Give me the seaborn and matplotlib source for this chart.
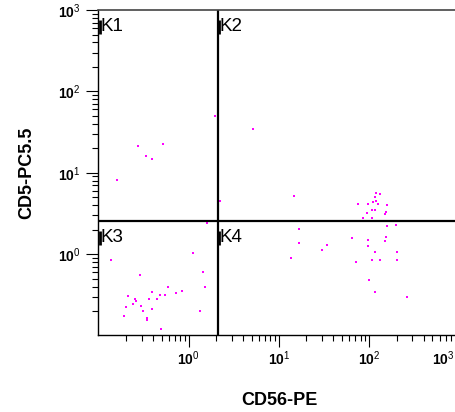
import numpy as np
import pandas as pd
import seaborn as sns
import matplotlib.pyplot as plt
from matplotlib.ticker import LogLocator, NullFormatter
from matplotlib.transforms import offset_copy

# события (CD56-PE, CD5-PC5.5)
cd56 = [1.94, 0.273, 0.52, 0.335, 0.39, 0.159, 5.1, 14.7, 2.2,
        118.6, 130, 114.5, 118.6, 110.7, 75.6, 97.5, 123.5, 158, 108,
        115.6, 153, 94.3, 147.6, 85.9, 108,
        157, 197, 16.7, 153, 64.9, 97.5, 147.6, 16.7, 33.8, 97.5,
        29.7, 114.5, 204, 13.5, 108, 130, 204, 70.6, 100, 114.5, 263,
        1.61, 1.12, 0.136, 1.42, 0.285, 1.53, 0.586, 0.843, 0.718, 0.39,
        0.539, 0.475, 0.212, 0.251, 0.359, 0.443, 0.26, 0.241, 0.293,
        0.2, 0.39, 0.308, 1.32, 0.193, 0.343, 0.343, 0.491]
cd5 = [49.8, 21.1, 22.6, 15.9, 14.8, 8.09, 34.5, 5.25, 4.56,
       5.65, 5.45, 5.05, 4.56, 4.38, 4.11, 4.11, 4.11, 3.96, 3.44,
       3.44, 3.30, 3.18, 3.10, 2.77, 2.77,
       2.22, 2.31, 2.01, 1.62, 1.57, 1.51, 1.46, 1.36, 1.30, 1.26,
       1.13, 1.06, 1.06, 0.885, 0.851, 0.851, 0.851, 0.798, 0.484, 0.339, 0.294,
       2.42, 1.03, 0.851, 0.601, 0.557, 0.394, 0.394, 0.352, 0.330, 0.342,
       0.317, 0.317, 0.305, 0.283, 0.281, 0.283, 0.267, 0.246, 0.230,
       0.222, 0.213, 0.201, 0.200, 0.172, 0.165, 0.155, 0.121]

# границы квадрантов
gate_x = 2.1
gate_y = 2.54
quad_labels = ['K1', 'K2', 'K3', 'K4']

axis_min = 0.1
axis_max = 1000
tick_vals = [1, 10, 100, 1000]
tick_text = [r'$\mathbf{10}^{0}$', r'$\mathbf{10}^{1}$', r'$\mathbf{10}^{2}$', r'$\mathbf{10}^{3}$']

sns.set_theme(style='white')
plt.rcParams['font.family'] = ['Liberation Sans', 'DejaVu Sans']
plt.rcParams['mathtext.fontset'] = 'custom'
plt.rcParams['mathtext.rm'] = 'Liberation Sans'
plt.rcParams['mathtext.bf'] = 'Liberation Sans:bold'
for key in ['text.color', 'axes.labelcolor', 'xtick.color', 'ytick.color']:
    plt.rcParams[key] = 'black'

df = pd.DataFrame({'CD56-PE': cd56, 'CD5-PC5.5': cd5})

fig = plt.figure(figsize=(4.56, 4.12), dpi=100)
ax = fig.add_axes([0.216, 0.1857, 0.792, 0.790])

sns.scatterplot(data=df, x='CD56-PE', y='CD5-PC5.5', ax=ax, color='#ff00ff',
                marker='s', s=4, linewidth=0, legend=False)
ax.set_xscale('log')
ax.set_yscale('log')

# линии квадрантов
ax.axvline(gate_x, color='black', lw=1.6)
ax.axhline(gate_y, color='black', lw=1.6)

# подписи квадрантов с чёрной меткой слева
corners = [(axis_min, axis_max), (gate_x, axis_max), (axis_min, gate_y), (gate_x, gate_y)]
for lab, (cx, cy) in zip(quad_labels, corners):
    ax.annotate(lab, xy=(cx, cy), xytext=(2, -7.5), textcoords='offset pixels',
                ha='left', va='top', fontsize=13.5, color='black')
    ax.plot([cx], [cy], marker='|', ms=9.4, mew=2.0, color='black', clip_on=False,
            transform=offset_copy(ax.transData, fig, x=1.3, y=-17, units='dots'))

ax.set_xlim(axis_min, axis_max)
ax.set_ylim(axis_min, axis_max)

# последняя подпись по x не влезает в картинку - ставим её отдельно, левее
ax.set_xticks(tick_vals, tick_text[:-1] + [''])
ax.set_yticks(tick_vals, tick_text)
ax.annotate(tick_text[-1], xy=(axis_max, axis_min), xytext=(-5, -14), textcoords='offset pixels',
            ha='right', va='top', fontsize=10, color='black', annotation_clip=False)
for axis in (ax.xaxis, ax.yaxis):
    axis.set_minor_locator(LogLocator(base=10, subs=np.arange(2, 10)))
    axis.set_minor_formatter(NullFormatter())

ax.tick_params(which='major', direction='out', length=8.5, width=0.8, color='black',
               labelsize=10, labelcolor='black', bottom=True, left=True)
ax.tick_params(which='minor', direction='out', length=4.5, width=0.8, color='black',
               bottom=True, left=True)
ax.tick_params(axis='x', which='major', pad=1.5)
ax.tick_params(axis='y', which='major', pad=4.5)

for side in ['left', 'bottom']:
    ax.spines[side].set_color('black')
    ax.spines[side].set_linewidth(1)
ax.spines['top'].set_color('#444444')
ax.spines['top'].set_linewidth(1.2)

ax.set_xlabel('CD56-PE', fontsize=13, fontweight='bold', labelpad=17, color='black')
ax.set_ylabel('CD5-PC5.5', fontsize=13, fontweight='bold', labelpad=16, color='black')

fig.savefig('out.png', dpi=100)
